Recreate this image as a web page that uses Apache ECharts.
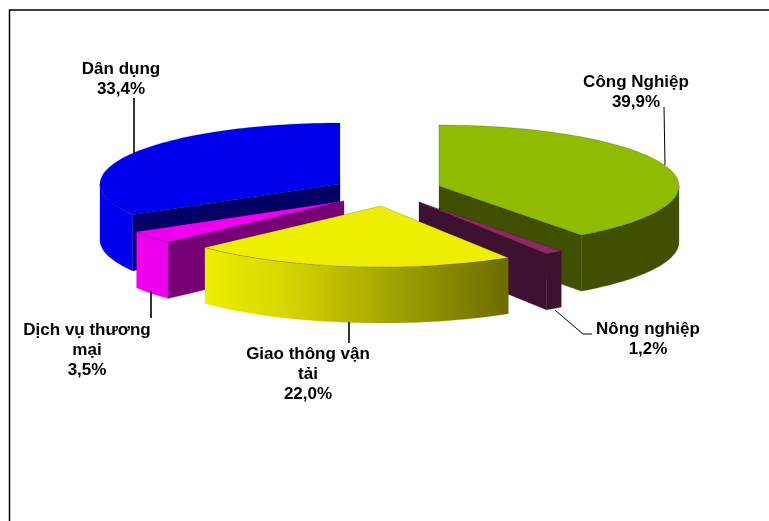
<!DOCTYPE html>
<html><head><meta charset="utf-8">
<script src="https://cdn.jsdelivr.net/npm/echarts@6/dist/echarts.min.js"></script>
<style>html,body{margin:0;padding:0;background:#fff}#c{width:769px;height:521px}</style>
</head><body><div id="c"></div>
<script>
var categories = ['Công Nghiệp', 'Nông nghiệp', 'Giao thông vận\ntải', 'Dịch vụ thương\nmại', 'Dân dụng'];
var shares = [39.9, 1.2, 22.0, 3.5, 33.4];

// Presentation only: geometry of the tilted pie and per-slice styling
var PIE = { cx: 385, cy: 190.5, rx: 240, ry: 61, depth: 56 };
var explode = [[54, -4.5], [34, 11.5], [-4, 15.5], [-41, 10.5], [-45, -6.5]];
var topColors = ['#8fbc00', '#8c2a66', '#eeee00', '#ee00ee', '#0000ee'];
var rimColors = ['#405000', '#3f1030', null, '#ee00ee', '#0000ee'];
var faceColors = ['#405000', '#3f1030', '#6b6b00', '#770077', '#000066'];
var labelPos = [[636, 92], [648, 339], [308, 374], [87, 350], [121, 79]];
var leaders = [
  [[664, 107], [665, 165]],
  [[555, 310], [583, 334], [592, 334]],
  [[349, 322], [349, 343]],
  [[151, 291], [151, 318]],
  [[134, 98], [134, 153]]
];
var leaderWidths = [1, 1, 1.6, 1.6, 1.6];
var drawOrder = [0, 4, 3, 1, 2];

var total = shares.reduce(function (a, b) { return a + b; }, 0);
var RAD = Math.PI / 180;
var starts = [];
shares.reduce(function (acc, v, i) { starts[i] = acc; return acc + v / total * 360; }, 0);

function pt(c, deg, dy) {
  return [c[0] + PIE.rx * Math.sin(deg * RAD), c[1] - PIE.ry * Math.cos(deg * RAD) + (dy || 0)];
}
function arc(c, a, b, dy) {
  var n = Math.max(2, Math.ceil(Math.abs(b - a) / 1.5)), out = [];
  for (var i = 0; i <= n; i++) out.push(pt(c, a + (b - a) * i / n, dy));
  return out;
}
function poly(points, fill, stroke, z) {
  return { type: 'polygon', z2: z, shape: { points: points },
    style: { fill: fill, stroke: stroke || fill, lineWidth: stroke ? 0.6 : 0.3 } };
}
function renderSlice(params, api) {
  var i = drawOrder[params.dataIndex];
  var value = api.value(1);
  var a0 = starts[i], a1 = a0 + value / total * 360;
  var c = [PIE.cx + explode[i][0], PIE.cy + explode[i][1]];
  var d = PIE.depth, kids = [], z = params.dataIndex * 10;
  function face(a) {
    var r = pt(c, a);
    kids.push(poly([c, r, [r[0], r[1] + d], [c[0], c[1] + d]], faceColors[i], null, z));
  }
  if (Math.sin(a1 * RAD) > 0.001) face(a1);
  if (Math.sin(a0 * RAD) < -0.001) face(a0);
  var r0 = Math.max(a0, 90), r1 = Math.min(a1, 270);
  if (r1 > r0) {
    var top = arc(c, r0, r1, 0), bot = arc(c, r1, r0, d);
    var fill = rimColors[i] || { type: 'linear', x: 0, y: 0, x2: 1, y2: 0,
      colorStops: [{ offset: 0, color: '#eeee00' }, { offset: 0.25, color: '#d8d800' },
                   { offset: 1, color: '#6b6b00' }] };
    kids.push(poly(top.concat(bot), fill, null, z + 1));
  }
  kids.push(poly([c].concat(arc(c, a0, a1, 0)), topColors[i], 'rgba(0,0,0,0.3)', z + 2));
  return { type: 'group', children: kids };
}
function renderLabel(params, api) {
  var i = api.value(0);
  var txt = categories[i] + '\n' + api.value(1).toFixed(1).replace('.', ',') + '%';
  return { type: 'group', children: [
    { type: 'polyline', z2: 100, shape: { points: leaders[i] },
      style: { stroke: '#000', lineWidth: leaderWidths[i], fill: null } },
    { type: 'text', z2: 101, x: labelPos[i][0], y: labelPos[i][1],
      style: { text: txt, fill: '#000', align: 'center', verticalAlign: 'middle',
        font: 'bold 17px "Liberation Sans", Arial, sans-serif', lineHeight: 20 } }
  ] };
}
var chart = echarts.init(document.getElementById('c'), null, { renderer: 'canvas' });
chart.setOption({
  animation: false,
  backgroundColor: '#fff',
  graphic: [{ type: 'polyline', silent: true,
    shape: { points: [[9.5, 521], [9.5, 10], [769, 10]] },
    style: { stroke: '#000', lineWidth: 1.5, fill: null } }],
  series: [
    { type: 'custom', coordinateSystem: 'none', silent: true, renderItem: renderSlice, z: 2,
      data: drawOrder.map(function (i) { return [i, shares[i]]; }) },
    { type: 'custom', coordinateSystem: 'none', silent: true, renderItem: renderLabel, z: 3,
      data: shares.map(function (v, i) { return [i, v]; }) }
  ]
});
</script></body></html>
